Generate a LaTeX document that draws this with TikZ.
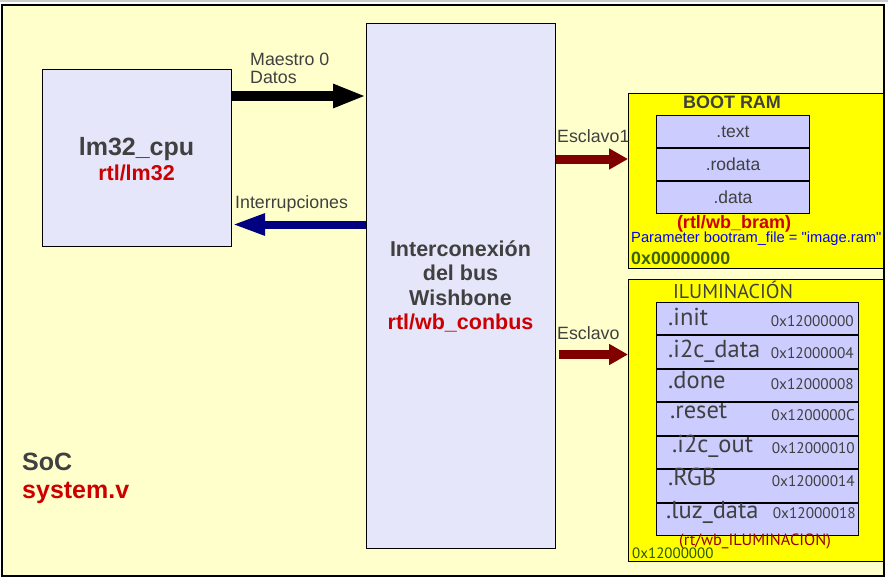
\documentclass[tikz,border=0pt]{standalone}
\usepackage{fontspec}
\setmainfont{Liberation Sans}
\newfontfamily\myr{PT Sans}
\newfontfamily\plainq{Liberation Sans}
\usetikzlibrary{arrows.meta}
\definecolor{bgy}{RGB}{255,255,204}
\definecolor{lav}{RGB}{230,230,250}
\definecolor{lavb}{RGB}{204,204,255}
\definecolor{txt}{RGB}{64,64,64}
\definecolor{rd}{RGB}{204,0,0}
\definecolor{dred}{RGB}{128,0,0}
\definecolor{navyb}{RGB}{0,0,128}
\definecolor{olivg}{RGB}{60,96,0}
\definecolor{brred}{RGB}{150,0,0}
\definecolor{dkg}{RGB}{40,90,0}
\definecolor{yel}{RGB}{255,255,0}
\definecolor{pblue}{RGB}{0,0,255}
\begin{document}
\begin{tikzpicture}[x=1pt,y=-1pt,
  block/.style={draw=black, line width=1pt, inner sep=0pt, anchor=north west},
  lbl/.style={font=\fontsize{17.8}{21}\selectfont, text=txt, inner sep=0pt, anchor=base west},
  big/.style={font=\fontsize{25}{30}\selectfont\bfseries, inner sep=0pt, anchor=base west},
  seg/.style={block, fill=lavb, minimum width=153pt, minimum height=32pt,
    font=\fontsize{17.5}{21}\selectfont, text=txt},
  irow/.style={block, fill=lavb, minimum width=202pt, minimum height=32.43pt},
  ilbl/.style={font=\myr\fontsize{24.5}{28}\selectfont, text=txt, inner sep=0pt, anchor=base west},
  iadr/.style={font=\myr\fontsize{15.3}{18}\selectfont, text=txt, inner sep=0pt, anchor=base east}
]
\useasboundingbox (0,0) rectangle (888,581);
\fill[white] (0,0) rectangle (888,581);
\draw[black!20, line width=1.2pt] (0,1) -- (888,1);
% SoC frame
\node[block, fill=bgy, line width=1.6pt, minimum width=882pt, minimum height=571pt] (soc) at (1,4) {};
\node[big, text=txt] (soct) at (22,470) {SoC};
\node[big, text=rd] (socf) at (22,498) {system.v};
% CPU
\node[block, fill=lav, minimum width=189pt, minimum height=177pt] (cpu) at (42,69) {};
\node[inner sep=0pt, anchor=base, text=txt, font=\fontsize{25}{30}\selectfont\bfseries] (cput) at (136.5,155) {lm32\_cpu};
\node[inner sep=0pt, anchor=base, text=rd, font=\fontsize{21.5}{25}\selectfont\bfseries] (cpuf) at (136.5,180) {rtl/lm32};
% Bus
\node[block, fill=lav, minimum width=189pt, minimum height=525pt] (bus) at (366,23) {};
\node[inner sep=0pt, anchor=base, text=txt, font=\fontsize{21.5}{25}\selectfont\bfseries] (bus1) at (460.5,256) {Interconexión};
\node[inner sep=0pt, anchor=base, text=txt, font=\fontsize{21.5}{25}\selectfont\bfseries] (bus2) at (460.5,280.5) {del bus};
\node[inner sep=0pt, anchor=base, text=txt, font=\fontsize{21.5}{25}\selectfont\bfseries] (bus3) at (460.5,305) {Wishbone};
\node[inner sep=0pt, anchor=base, text=rd, font=\fontsize{21.5}{25}\selectfont\bfseries] (bus4) at (460.5,329.5) {rtl/wb\_conbus};
% BOOT RAM
\node[block, fill=yel, minimum width=255pt, minimum height=175pt] (boot) at (628,93) {};
\node[inner sep=0pt, anchor=base, text=txt, font=\fontsize{18}{21}\selectfont\bfseries] (boott) at (732,108) {BOOT RAM};
\node[seg] (s1) at (656,115) {.text};
\node[seg, anchor=north] (s2) at (s1.south) {.rodata};
\node[seg, anchor=north] (s3) at (s2.south) {.data};
\node[inner sep=0pt, anchor=base, text=rd, font=\fontsize{18}{21}\selectfont\bfseries] (bootf) at (734,228) {(rtl/wb\_bram)};
\node[inner sep=0pt, anchor=base west, text=pblue, font=\plainq\fontsize{14.7}{17}\selectfont] (bootp) at (631,242) {Parameter bootram\_file = "image.ram"};
\node[inner sep=0pt, anchor=base west, text=olivg, font=\fontsize{17.8}{21}\selectfont\bfseries] (boota) at (631,264) {0x00000000};
% ILUMINACION
\node[block, fill=yel, minimum width=255pt, minimum height=282pt] (ilum) at (628,279) {};
\node[inner sep=0pt, anchor=base, text=txt, font=\myr\fontsize{20}{24}\selectfont] (ilumt) at (733,298) {ILUMINACIÓN};
\node[irow] (r1) at (656,302) {};
\node[irow, anchor=north] (r2) at (r1.south) {};
\node[irow, anchor=north] (r3) at (r2.south) {};
\node[irow, anchor=north] (r4) at (r3.south) {};
\node[irow, anchor=north] (r5) at (r4.south) {};
\node[irow, anchor=north] (r6) at (r5.south) {};
\node[irow, anchor=north] (r7) at (r6.south) {};
\node[ilbl] (l1) at (668,325) {.init};
\node[ilbl] (l2) at (668,357) {.i2c\_data};
\node[ilbl] (l3) at (668,388) {.done};
\node[ilbl] (l4) at (670,418) {.reset};
\node[ilbl] (l5) at (672,452) {.i2c\_out};
\node[ilbl] (l6) at (668,485) {.RGB};
\node[ilbl] (l7) at (666,518) {.luz\_data};
\node[iadr] (a1) at (854,326) {0x12000000};
\node[iadr] (a2) at (854,358) {0x12000004};
\node[iadr] (a3) at (854,389) {0x12000008};
\node[iadr] (a4) at (855,420) {0x1200000C};
\node[iadr] (a5) at (855,453) {0x12000010};
\node[iadr] (a6) at (855,486) {0x12000014};
\node[iadr] (a7) at (856,518) {0x12000018};
\node[inner sep=0pt, anchor=base, text=brred, font=\myr\fontsize{16.3}{19}\selectfont] (ilumf) at (755,545) {(rt/wb\_ILUMINACION)};
\node[inner sep=0pt, anchor=base west, text=dkg, font=\myr\fontsize{15}{18}\selectfont] (iluma) at (632,558) {0x12000000};
% arrows
\draw[black, line width=10pt, -{Triangle[length=33pt,width=22pt]}] (cpu.east |- 0,96) -- (bus.west |- 0,96);
\node[lbl] (m0) at (250,65) {Maestro 0};
\node[lbl] (m1) at (250,83) {Datos};
\draw[navyb, line width=8pt, -{Triangle[length=33pt,width=20pt]}] (bus.west |- 0,224.5) -- (cpu.east |- 0,224.5);
\node[lbl] (irq) at (235,208) {Interrupciones};
\draw[dred, line width=9pt, -{Triangle[length=19pt,width=20pt]}] (bus.east |- 0,159) -- (boot.west |- 0,159);
\node[lbl] (e1) at (557,142) {Esclavo1};
\draw[dred, line width=9pt, -{Triangle[length=19pt,width=20pt]}] ([xshift=3pt]bus.east |- 0,354.5) -- (ilum.west |- 0,354.5);
\node[lbl] (e2) at (557,339) {Esclavo};
\end{tikzpicture}
\end{document}
